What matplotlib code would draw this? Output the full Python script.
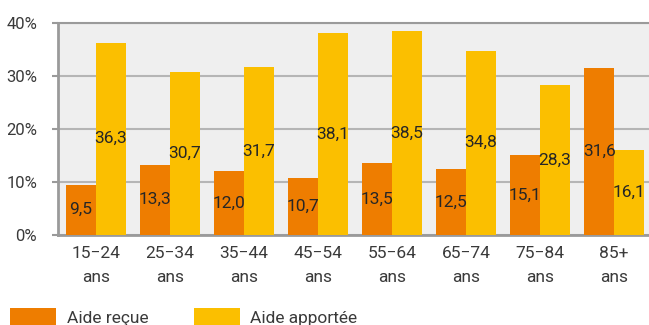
import matplotlib.pyplot as plt
import numpy as np

plt.rcParams['font.family'] = ['Roboto', 'DejaVu Sans']

# tranches d'âge
categories = ['15−24\nans', '25−34\nans', '35−44\nans', '45−54\nans',
              '55−64\nans', '65−74\nans', '75−84\nans', '85+\nans']
aide_recue = [9.5, 13.3, 12.0, 10.7, 13.5, 12.5, 15.1, 31.6]
aide_apportee = [36.3, 30.7, 31.7, 38.1, 38.5, 34.8, 28.3, 16.1]
yticks = [0, 10, 20, 30, 40]

orange = '#EE7D00'
jaune = '#FBBF00'

fig = plt.figure(figsize=(6.49, 3.25), dpi=100)
ax = fig.add_axes([58 / 649, 1 - 235 / 325, 1 - 58 / 649, 212 / 325])
ax.set_facecolor('#efefef')

x = np.arange(len(categories))
w = 0.405
b1 = ax.bar(x - w / 2, aide_recue, w, color=orange, label='Aide reçue', zorder=3)
b2 = ax.bar(x + w / 2, aide_apportee, w, color=jaune, label='Aide apportée', zorder=3)

# valeurs au milieu des barres
for bars, vals in [(b1, aide_recue), (b2, aide_apportee)]:
    for r, v in zip(bars, vals):
        ax.text(r.get_x() + r.get_width() / 2, v / 2, f'{v:.1f}'.replace('.', ','),
                ha='center', va='center', fontsize=12.5, color='#262626', zorder=4)

ax.set_xlim(-0.514, 7.47)
ax.set_ylim(0, 40)
ax.set_yticks(yticks)
ax.set_yticklabels([f'{t}%' for t in yticks])
ax.set_xticks(x)
ax.set_xticklabels(categories, linespacing=1.75)

ax.yaxis.grid(True, color='#b5b5b5', linewidth=1.5, zorder=1)
ax.set_axisbelow(True)
ax.spines['right'].set_visible(False)
ax.spines['top'].set_color('#9a9a9a')
ax.spines['top'].set_linewidth(1.5)
ax.spines['left'].set_color('#9a9a9a')
ax.spines['left'].set_linewidth(2)
ax.spines['bottom'].set_color('#9a9a9a')
ax.spines['bottom'].set_linewidth(2)

ax.tick_params(axis='y', length=4, width=1.5, color='#9a9a9a', pad=11,
               labelsize=12, labelcolor='#3a3a3a')
ax.tick_params(axis='x', length=0, pad=8, labelsize=12.5, labelcolor='#3a3a3a')

fig.legend(handles=[b1, b2], loc='upper left', bbox_to_anchor=(10 / 649, 1 - 308 / 325),
           ncol=2, frameon=False, fontsize=12.5, handlelength=2.65, handleheight=1.3,
           handletextpad=0.62, columnspacing=2.6, borderpad=0, borderaxespad=0,
           labelcolor='#3a3a3a')

fig.savefig('out.png', dpi=100)
